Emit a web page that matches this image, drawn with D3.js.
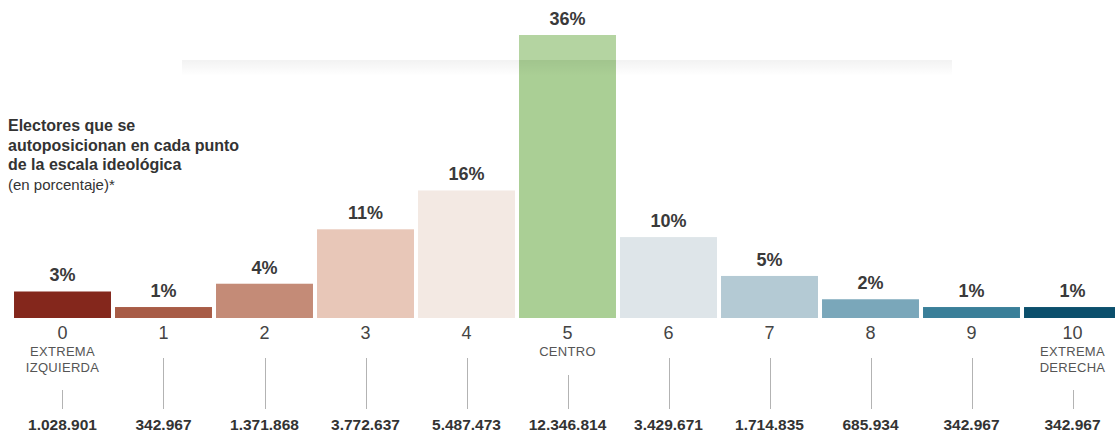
<!DOCTYPE html>
<html>
<head>
<meta charset="utf-8">
<script src="https://cdn.jsdelivr.net/npm/d3@7"></script>
<style>
  html, body { margin: 0; padding: 0; background: #fff; }
  svg { display: block; font-family: "Liberation Sans", Arial, sans-serif; }
</style>
</head>
<body>
<svg id="chart" width="1115" height="437"></svg>
<script>
const categories = ["0", "1", "2", "3", "4", "5", "6", "7", "8", "9", "10"];
const percentages = [3, 1, 4, 11, 16, 36, 10, 5, 2, 1, 1];
const voters = ["1.028.901", "342.967", "1.371.868", "3.772.637", "5.487.473", "12.346.814", "3.429.671", "1.714.835", "685.934", "342.967", "342.967"];
const subLabels = [["EXTREMA", "IZQUIERDA"], [], [], [], [], ["CENTRO"], [], [], [], [], ["EXTREMA", "DERECHA"]];
const colors = ["#84271c", "#a85c46", "#c48b77", "#e8c7b8", "#f3e9e3", "#aacf95", "#dee5e9", "#b4cad4", "#7aa7ba", "#3a7f99", "#0b4f6c"];
const titleLines = ["Electores que se", "autoposicionan en cada punto", "de la escala ideológica"];
const subtitle = "(en porcentaje)*";

const svg = d3.select("#chart");
const baseline = 318;

const x = d3.scaleBand().domain(categories).range([12, 1123]).paddingInner(0.04).paddingOuter(0.02);
const y = d3.scaleLinear().domain([-0.41, 36]).range([baseline, 35]);
const cx = d => x(d.c) + x.bandwidth() / 2;

const defs = svg.append("defs");
const grad = defs.append("linearGradient").attr("id", "shadow").attr("x1", 0).attr("y1", 0).attr("x2", 0).attr("y2", 1);
grad.append("stop").attr("offset", 0).attr("stop-color", "#000").attr("stop-opacity", 0.05);
grad.append("stop").attr("offset", 1).attr("stop-color", "#000").attr("stop-opacity", 0);

const data = categories.map((c, i) => ({c, v: percentages[i], n: voters[i], sub: subLabels[i], color: colors[i]}));

// bars
svg.append("g").selectAll("rect").data(data).join("rect")
  .attr("x", d => x(d.c))
  .attr("y", d => y(d.v))
  .attr("width", x.bandwidth())
  .attr("height", d => baseline - y(d.v))
  .attr("fill", d => d.color);

// faint watermark box (background decoration)
const wm = svg.append("g");
wm.append("rect").attr("x", 182).attr("y", 60).attr("width", 770).attr("height", 16).attr("fill", "url(#shadow)");
wm.append("rect").attr("x", 182).attr("y", 0).attr("width", 765).attr("height", 60).attr("fill", "#fff").attr("fill-opacity", 0.12);

// percent labels
svg.append("g").selectAll("text").data(data).join("text")
  .attr("x", cx)
  .attr("y", d => y(d.v) - 10)
  .attr("text-anchor", "middle")
  .attr("font-size", 18).attr("font-weight", "bold").attr("fill", "#3a3a3a")
  .text(d => d.v + "%");

// category numbers
svg.append("g").selectAll("text").data(data).join("text")
  .attr("x", cx)
  .attr("y", 339)
  .attr("text-anchor", "middle")
  .attr("font-size", 18).attr("fill", "#444")
  .text(d => d.c);

// sub labels
const subG = svg.append("g");
data.forEach(d => {
  d.sub.forEach((s, j) => {
    subG.append("text")
      .attr("x", cx(d))
      .attr("y", 356 + j * 16)
      .attr("text-anchor", "middle")
      .attr("font-size", 13).attr("letter-spacing", 0.3).attr("fill", "#555")
      .text(s);
  });
});

// connector lines
svg.append("g").selectAll("line").data(data).join("line")
  .attr("x1", d => Math.round(cx(d)) + 0.5)
  .attr("x2", d => Math.round(cx(d)) + 0.5)
  .attr("y1", d => d.sub.length === 2 ? 390 : d.sub.length === 1 ? 375 : 358)
  .attr("y2", 409)
  .attr("stroke", "#b3b3b3").attr("stroke-width", 1);

// voter counts
svg.append("g").selectAll("text").data(data).join("text")
  .attr("x", cx)
  .attr("y", 430)
  .attr("text-anchor", "middle")
  .attr("font-size", 15.5).attr("font-weight", "bold").attr("fill", "#333")
  .text(d => d.n);

// title
const t = svg.append("g");
titleLines.forEach((l, i) => {
  t.append("text").attr("x", 8).attr("y", 131 + i * 19.5)
    .attr("font-size", 16).attr("font-weight", "bold").attr("fill", "#333").text(l);
});
t.append("text").attr("x", 8).attr("y", 131 + 3 * 19.5)
  .attr("font-size", 15).attr("fill", "#333").text(subtitle);
</script>
</body>
</html>
